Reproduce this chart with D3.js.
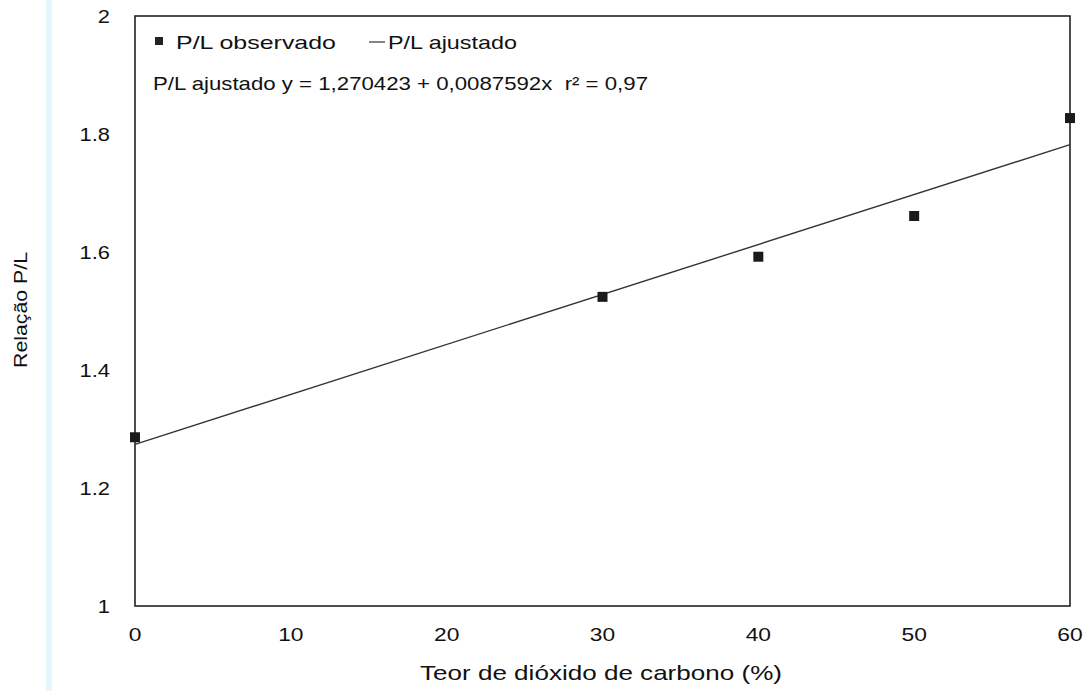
<!DOCTYPE html>
<html>
<head>
<meta charset="utf-8">
<script src="https://cdn.jsdelivr.net/npm/d3@7"></script>
<style>
  body { margin: 0; background: #fff; }
  text { font-family: "Liberation Sans", Arial, sans-serif; fill: #111; white-space: pre; }
</style>
</head>
<body>
<svg id="chart" width="1083" height="691"></svg>
<script>
// observed values
var co2 = [0, 30, 40, 50, 60];
var observed = [1.286, 1.524, 1.592, 1.661, 1.827];
// fitted line endpoints as drawn
var fitX = [0, 60];
var fitY = [1.274, 1.782];
var xTicks = [0, 10, 20, 30, 40, 50, 60];
var yTicks = [1, 1.2, 1.4, 1.6, 1.8, 2];

var margin = {left: 135, right: 1070, top: 16, bottom: 606};
var svg = d3.select("#chart");

var x = d3.scaleLinear().domain([0, 60]).range([margin.left, margin.right]);
var y = d3.scaleLinear().domain([1, 2]).range([margin.bottom, margin.top]);

// faint scan band on the left edge
svg.append("rect").attr("x", 46).attr("y", 0).attr("width", 6).attr("height", 691)
    .style("fill", "#e6f7fb");

// frame
svg.append("rect")
    .attr("x", margin.left).attr("y", margin.top)
    .attr("width", margin.right - margin.left)
    .attr("height", margin.bottom - margin.top)
    .style("fill", "none").style("stroke", "#222").style("stroke-width", 1.6);

// tick labels (no tick marks)
svg.append("g").selectAll("text").data(xTicks).enter().append("text")
    .attr("x", function(d){ return x(d); })
    .attr("y", 641)
    .attr("text-anchor", "middle")
    .style("font-size", "19px")
    .attr("transform", function(d){ return "translate(" + x(d) + ",0) scale(1.2,1) translate(" + (-x(d)) + ",0)"; })
    .text(function(d){ return d; });

svg.append("g").selectAll("text").data(yTicks).enter().append("text")
    .attr("x", 110)
    .attr("y", function(d){ return y(d) + 7; })
    .attr("text-anchor", "end")
    .style("font-size", "19px")
    .attr("transform", "translate(110,0) scale(1.15,1) translate(-110,0)")
    .text(function(d){ return d3.format("~g")(d); });

// axis titles
svg.append("text")
    .attr("x", 420).attr("y", 680)
    .attr("textLength", 362).attr("lengthAdjust", "spacingAndGlyphs")
    .style("font-size", "21px")
    .text("Teor de dióxido de carbono (%)");

svg.append("text")
    .attr("transform", "translate(27,368) rotate(-90)")
    .attr("textLength", 116).attr("lengthAdjust", "spacingAndGlyphs")
    .style("font-size", "19px")
    .text("Relação P/L");

// fitted line
var line = d3.line()
    .x(function(d, i){ return x(fitX[i]); })
    .y(function(d){ return y(d); });
svg.append("path")
    .datum(fitY)
    .attr("d", line)
    .style("fill", "none").style("stroke", "#333").style("stroke-width", 1.4);

// observed squares
svg.append("g").selectAll("rect").data(observed).enter().append("rect")
    .attr("x", function(d, i){ return x(co2[i]) - 5; })
    .attr("y", function(d){ return y(d) - 5; })
    .attr("width", 10).attr("height", 10)
    .style("fill", "#1a1a1a");

// legend
var lg = svg.append("g");
lg.append("rect").attr("x", 155).attr("y", 37).attr("width", 8).attr("height", 8).style("fill", "#222");
lg.append("text").attr("x", 176).attr("y", 49).style("font-size", "19px")
    .attr("textLength", 160).attr("lengthAdjust", "spacingAndGlyphs")
    .text("P/L observado");
lg.append("line").attr("x1", 369).attr("x2", 385).attr("y1", 42).attr("y2", 42)
    .style("stroke", "#333").style("stroke-width", 1.2);
lg.append("text").attr("x", 388).attr("y", 49).style("font-size", "19px")
    .attr("textLength", 129).attr("lengthAdjust", "spacingAndGlyphs")
    .text("P/L ajustado");
lg.append("text").attr("x", 153).attr("y", 90).style("font-size", "19px")
    .attr("textLength", 495).attr("lengthAdjust", "spacingAndGlyphs")
    .text("P/L ajustado y = 1,270423 + 0,0087592x  r² = 0,97");
</script>
</body>
</html>
